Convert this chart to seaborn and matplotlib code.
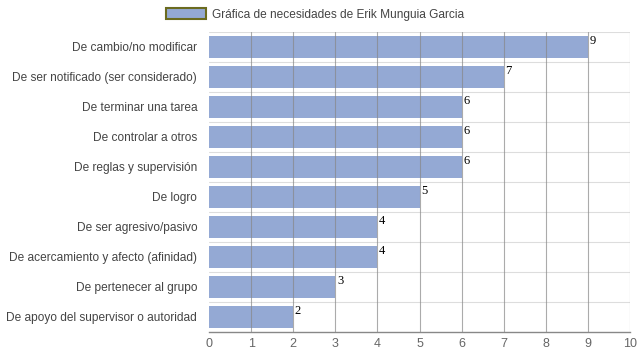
import matplotlib
matplotlib.use("Agg")
import matplotlib.pyplot as plt
import seaborn as sns
import pandas as pd
from matplotlib.patches import Patch

categories = [
    "De cambio/no modificar",
    "De ser notificado (ser considerado)",
    "De terminar una tarea",
    "De controlar a otros",
    "De reglas y supervisión",
    "De logro",
    "De ser agresivo/pasivo",
    "De acercamiento y afecto (afinidad)",
    "De pertenecer al grupo",
    "De apoyo del supervisor o autoridad",
]
values = [9, 7, 6, 6, 6, 5, 4, 4, 3, 2]
series_name = "Gráfica de necesidades de Erik Munguia Garcia"
xticks = list(range(0, 11))

df = pd.DataFrame({"cat": categories, "val": values})

sns.set_theme(style="white")
plt.rcParams["font.family"] = ["Arial", "Liberation Sans", "DejaVu Sans"]

fig = plt.figure(figsize=(6.39, 3.6), dpi=100)
ax = fig.add_axes([209 / 639, 28 / 360, 421 / 639, 300 / 360])

bar_color = "#94a9d4"
sns.barplot(data=df, x="val", y="cat", orient="h", color=bar_color,
            saturation=1, width=0.73, ax=ax, zorder=2, linewidth=0)

ax.set_xlim(0, 10)
ax.set_ylim(len(categories) - 0.5, -0.5)
ax.set_xticks(xticks)
ax.set_xticklabels([str(t) for t in xticks], color="#666666", fontsize=9)
ax.tick_params(axis="x", length=0, pad=4)
ax.tick_params(axis="y", length=0, pad=8.5)
ax.set_yticks(range(len(categories)))
ax.set_yticklabels(categories, color="#444444", fontsize=8.6)
ax.set_xlabel("")
ax.set_ylabel("")

# vertical gridlines (drawn over bars)
for t in xticks[1:]:
    ax.axvline(t, color="#888888", lw=0.8, alpha=0.7, zorder=3)
# horizontal gridlines at category boundaries
for b in range(len(categories)):
    ax.axhline(b - 0.5, color="#dddddd", lw=0.8, zorder=1)

for s in ["top", "right", "left"]:
    ax.spines[s].set_visible(False)
ax.spines["bottom"].set_color("#888888")
ax.spines["bottom"].set_linewidth(1)
ax.spines["bottom"].set_zorder(4)

for i, v in enumerate(values):
    ax.text(v + 0.04, i - 0.2, str(v), fontsize=9, color="#000000",
            family=["Liberation Serif", "DejaVu Serif"], ha="left", va="center", zorder=5)

handle = Patch(facecolor=bar_color, edgecolor="#6b6b1f", linewidth=1.5)
fig.legend([handle], [series_name], loc="center", bbox_to_anchor=(0.493, 0.96),
           frameon=False, fontsize=8.6, handlelength=3.3, handleheight=1.0,
           labelcolor="#444444", handletextpad=0.5)

fig.savefig("out.png", dpi=100)
